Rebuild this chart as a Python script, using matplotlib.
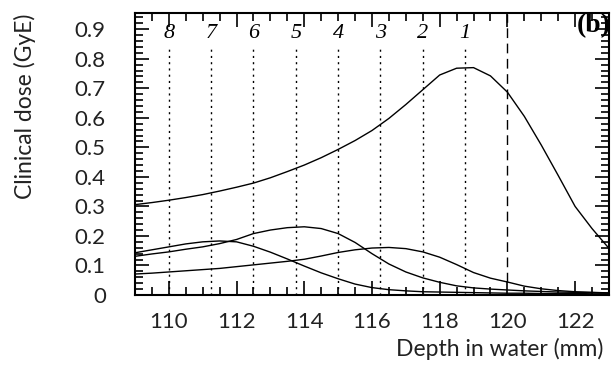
import numpy as np
import matplotlib
matplotlib.use("Agg")
import matplotlib.pyplot as plt
from matplotlib.ticker import MultipleLocator, FuncFormatter

# depth grid (mm)
depth = [109, 109.5, 110, 110.5, 111, 111.5, 112, 112.5, 113, 113.5, 114, 114.5,
         115, 115.5, 116, 116.5, 117, 117.5, 118, 118.5, 119, 119.5, 120, 120.5,
         121, 121.5, 122, 122.5, 123]

dose_total = [0.306, 0.313, 0.321, 0.330, 0.340, 0.352, 0.365, 0.379, 0.397, 0.418,
              0.440, 0.465, 0.493, 0.523, 0.557, 0.598, 0.645, 0.695, 0.745, 0.768,
              0.770, 0.742, 0.687, 0.605, 0.508, 0.405, 0.300, 0.225, 0.158]

dose_a = [0.143, 0.153, 0.163, 0.173, 0.180, 0.183, 0.180, 0.165, 0.145, 0.122,
          0.098, 0.075, 0.055, 0.037, 0.025, 0.018, 0.014, 0.011, 0.010, 0.009,
          0.008, 0.007, 0.006, 0.006, 0.005, 0.005, 0.005, 0.004, 0.004]

dose_b = [0.131, 0.139, 0.146, 0.155, 0.163, 0.174, 0.188, 0.208, 0.220, 0.228,
          0.231, 0.225, 0.208, 0.178, 0.140, 0.105, 0.078, 0.058, 0.043, 0.031,
          0.024, 0.020, 0.017, 0.014, 0.012, 0.010, 0.009, 0.008, 0.007]

dose_c = [0.071, 0.074, 0.078, 0.082, 0.086, 0.090, 0.096, 0.102, 0.108, 0.114,
          0.121, 0.132, 0.144, 0.153, 0.159, 0.161, 0.157, 0.146, 0.128, 0.103,
          0.076, 0.057, 0.044, 0.030, 0.021, 0.015, 0.011, 0.009, 0.007]

# energy layer positions and labels
layer_pos = [110, 111.25, 112.5, 113.75, 115, 116.25, 117.5, 118.75]
layer_labels = ["8", "7", "6", "5", "4", "3", "2", "1"]
target_edge = 120

font = "Lato"

fig = plt.figure(figsize=(6.12, 3.65), dpi=100)
ax = fig.add_axes([0.2206, 0.1918, 0.7744, 0.7726])

for ys in (dose_total, dose_a, dose_b, dose_c):
    ax.plot(depth, ys, color="black", linewidth=1.0)

for xp, lab in zip(layer_pos, layer_labels):
    ax.plot([xp, xp], [0, 0.845], color="black", linewidth=1.0,
            linestyle=(0, (1.5, 3)))
    ax.text(xp, 0.887, lab, ha="center", va="center", fontsize=16,
            family="Liberation Serif", style="italic")

ax.plot([target_edge, target_edge], [0.044, 0.95], color="black",
        linewidth=1.0, linestyle=(0, (7, 4)))

ax.text(123.05, 0.912, "(b)", ha="right", va="center", fontsize=20,
        family="Liberation Serif", fontweight="bold")

ax.set_xlim(109, 123)
ax.set_ylim(0, 0.955)

ax.xaxis.set_major_locator(MultipleLocator(2))
ax.xaxis.set_minor_locator(MultipleLocator(0.5))
ax.yaxis.set_major_locator(MultipleLocator(0.1))
ax.yaxis.set_minor_locator(MultipleLocator(0.02))
ax.yaxis.set_major_formatter(FuncFormatter(lambda v, p: "0" if abs(v) < 1e-9 else "%.1f" % v))

ax.tick_params(which="both", direction="in", top=True, right=True, width=1.2)
ax.tick_params(which="major", length=10)
ax.tick_params(which="minor", length=5.5)
ax.tick_params(axis="x", which="major", pad=12, labelsize=16)
ax.tick_params(axis="y", which="major", pad=21, labelsize=16)
for lab in ax.get_xticklabels() + ax.get_yticklabels():
    lab.set_family(font)
    lab.set_color("#222222")

for sp in ax.spines.values():
    sp.set_linewidth(1.5)

fig.text(603 / 612, 1 - 349 / 365, "Depth in water (mm)", ha="right", va="center",
         fontsize=16.5, family=font, color="#222222")
fig.text(25 / 612, 1 - 14 / 365, "Clinical dose (GyE)", ha="center", va="top",
         rotation=90, fontsize=16.5, family=font, color="#222222")

fig.savefig("out.png", dpi=100)
